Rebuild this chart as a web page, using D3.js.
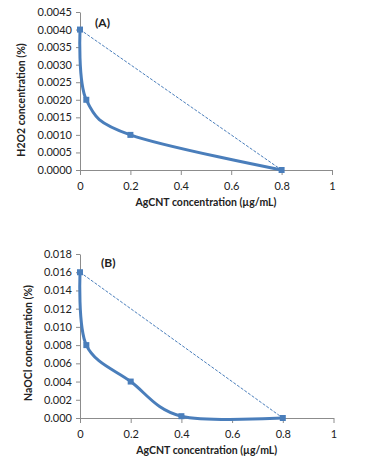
<!DOCTYPE html>
<html>
<head>
<meta charset="utf-8">
<script src="https://cdn.jsdelivr.net/npm/d3@7"></script>
<style>
  body { margin: 0; background: #fff; }
  text { font-family: Lato, "Open Sans", sans-serif; fill: #222; }
</style>
</head>
<body>
<svg id="chart" width="370" height="468"></svg>
<script>
// AgCNT doses (µg/mL) and measured concentrations (%)
const xTicks = [0, 0.2, 0.4, 0.6, 0.8, 1];

const doseA = [0, 0.025, 0.2, 0.8];
const h2o2 = [0.004, 0.002, 0.001, 0];
const refDoseA = [0, 0.8];
const refA = [0.004, 0];
const yTicksA = [0, 0.0005, 0.001, 0.0015, 0.002, 0.0025, 0.003, 0.0035, 0.004, 0.0045];

const doseB = [0, 0.025, 0.2, 0.4, 0.8];
const naocl = [0.016, 0.008, 0.004, 0.0002, 0];
const refDoseB = [0, 0.8];
const refB = [0.016, 0];
const yTicksB = [0, 0.002, 0.004, 0.006, 0.008, 0.01, 0.012, 0.014, 0.016, 0.018];

const blue = "#4a7ebb";
const axisGrey = "#8c8c8c";

const svg = d3.select("#chart");

const drawPanel = (cfg) => {
    const x = d3.scaleLinear().domain([0, 1]).range([cfg.left, cfg.right]);
    const y = d3.scaleLinear().domain([0, cfg.yMax]).range([cfg.bottom, cfg.top]);
    const g = svg.append("g");

    // y axis
    const yAxis = g.append("g")
        .attr("transform", `translate(${cfg.left},0)`)
        .call(d3.axisLeft(y).tickValues(cfg.yTicks).tickFormat(d3.format(cfg.yFmt))
            .tickSize(4).tickSizeOuter(0).tickPadding(4));
    // x axis
    const xAxis = g.append("g")
        .attr("transform", `translate(0,${cfg.bottom})`)
        .call(d3.axisBottom(x).tickValues(xTicks).tickFormat(d => String(+d.toFixed(1)))
            .tickSize(5).tickSizeOuter(0).tickPadding(7));

    [yAxis, xAxis].forEach(a => {
        a.selectAll("path, line").attr("stroke", axisGrey);
        a.selectAll("text").style("font-size", "11px").attr("fill", "#222");
    });

    // dashed straight reference line
    const refData = cfg.refX.map((d, i) => ({ x: d, y: cfg.refY[i] }));
    g.append("path")
        .datum(refData)
        .attr("fill", "none")
        .attr("stroke", blue)
        .attr("stroke-width", 1)
        .attr("stroke-dasharray", "3 1.5")
        .attr("d", d3.line().x(d => x(d.x)).y(d => y(d.y)));

    // smoothed measured line
    const data = cfg.xs.map((d, i) => ({ x: d, y: cfg.ys[i] }));
    g.append("path")
        .datum(data)
        .attr("fill", "none")
        .attr("stroke", blue)
        .attr("stroke-width", 3)
        .attr("d", d3.line().curve(d3.curveCardinal.tension(0)).x(d => x(d.x)).y(d => y(d.y)));

    g.selectAll("rect.marker")
        .data(data)
        .enter().append("rect")
        .attr("class", "marker")
        .attr("x", d => x(d.x) - 3)
        .attr("y", d => y(d.y) - 3)
        .attr("width", 6)
        .attr("height", 6)
        .attr("fill", blue);

    // panel label
    g.append("text")
        .attr("x", cfg.tagX)
        .attr("y", cfg.tagY)
        .style("font-size", "12px")
        .style("font-weight", "bold")
        .text(cfg.tag);

    // axis titles
    g.append("text")
        .attr("x", (cfg.left + cfg.right) / 2)
        .attr("y", cfg.bottom + 36)
        .attr("text-anchor", "middle")
        .style("font-size", "10.5px")
        .style("font-weight", "bold")
        .text("AgCNT concentration (µg/mL)");

    g.append("text")
        .attr("transform", `translate(${cfg.yLabelX},${cfg.yLabelY}) rotate(-90)`)
        .attr("text-anchor", "middle")
        .style("font-size", "10.5px")
        .style("font-weight", "bold")
        .text(cfg.yLabel);
};

drawPanel({
    left: 80, right: 332, top: 12, bottom: 170,
    yMax: 0.0045, yTicks: yTicksA, yFmt: ".4f",
    xs: doseA, ys: h2o2, refX: refDoseA, refY: refA,
    tag: "(A)", tagX: 95, tagY: 27,
    yLabel: "H2O2 concentration (%)", yLabelX: 25, yLabelY: 100
});

drawPanel({
    left: 80, right: 333.5, top: 254, bottom: 418,
    yMax: 0.018, yTicks: yTicksB, yFmt: ".3f",
    xs: doseB, ys: naocl, refX: refDoseB, refY: refB,
    tag: "(B)", tagX: 101, tagY: 267,
    yLabel: "NaOCl concentration (%)", yLabelX: 32, yLabelY: 343
});
</script>
</body>
</html>
